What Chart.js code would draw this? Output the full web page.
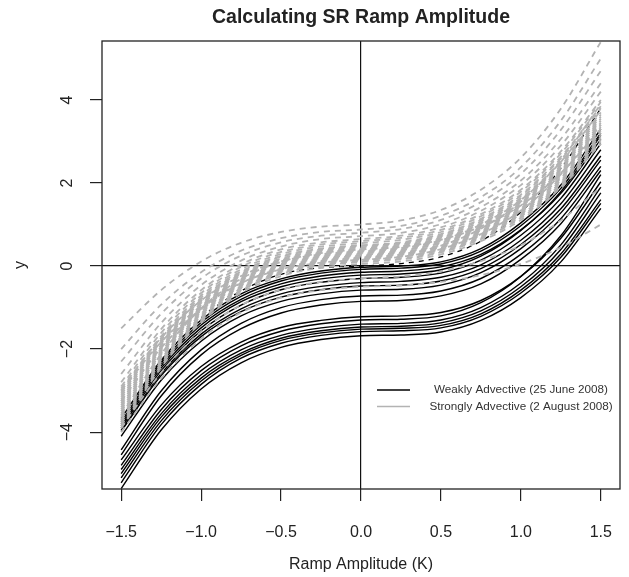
<!DOCTYPE html>
<html>
<head>
<meta charset="utf-8">
<script src="https://cdn.jsdelivr.net/npm/chart.js@4"></script>
<style>
  html, body { margin: 0; padding: 0; background: #fff; }
</style>
</head>
<body>
<canvas id="myChart" width="629" height="577"></canvas>
<script>
// ramp amplitude sample points (K)
var rampX = [-1.5, -1.25, -1.0, -0.75, -0.5, -0.25, 0.0, 0.25, 0.5, 0.75, 1.0, 1.25, 1.5];
var xTicks = [-1.5, -1.0, -0.5, 0.0, 0.5, 1.0, 1.5];
var yTicks = [-4, -2, 0, 2, 4];

// Weakly Advective (25 June 2008) - black solid curves
var weakly = [
  [-3.67,-2.27,-1.30,-0.67,-0.31,-0.12,-0.03,-0.00,0.10,0.42,1.04,1.95,3.30],
  [-3.75,-2.34,-1.36,-0.73,-0.36,-0.17,-0.08,-0.05,0.05,0.36,0.97,1.87,3.20],
  [-3.80,-2.40,-1.42,-0.80,-0.43,-0.24,-0.15,-0.12,-0.02,0.28,0.87,1.75,3.05],
  [-3.85,-2.46,-1.49,-0.86,-0.50,-0.31,-0.22,-0.19,-0.09,0.24,0.86,1.79,3.15],
  [-3.90,-2.52,-1.56,-0.94,-0.57,-0.39,-0.30,-0.27,-0.17,0.14,0.74,1.63,2.95],
  [-3.95,-2.59,-1.64,-1.03,-0.67,-0.49,-0.40,-0.37,-0.27,0.03,0.62,1.50,2.80],
  [-3.98,-2.64,-1.70,-1.10,-0.75,-0.57,-0.48,-0.46,-0.36,-0.06,0.52,1.38,2.65],
  [-4.10,-2.75,-1.81,-1.20,-0.85,-0.67,-0.58,-0.56,-0.46,-0.16,0.42,1.28,2.55],
  [-4.43,-3.01,-2.02,-1.38,-1.00,-0.81,-0.72,-0.70,-0.60,-0.30,0.28,1.14,2.40],
  [-4.55,-3.13,-2.14,-1.51,-1.13,-0.94,-0.85,-0.83,-0.72,-0.43,0.16,1.02,2.30],
  [-4.67,-3.35,-2.42,-1.83,-1.48,-1.31,-1.22,-1.20,-1.12,-0.83,-0.25,0.67,2.03],
  [-4.80,-3.46,-2.52,-1.92,-1.57,-1.39,-1.30,-1.28,-1.20,-0.88,-0.25,0.73,2.20],
  [-4.90,-3.56,-2.62,-2.02,-1.67,-1.49,-1.40,-1.38,-1.30,-1.00,-0.41,0.51,1.90],
  [-5.00,-3.64,-2.70,-2.10,-1.74,-1.56,-1.47,-1.45,-1.37,-1.08,-0.50,0.40,1.76],
  [-5.10,-3.73,-2.77,-2.15,-1.79,-1.61,-1.52,-1.50,-1.43,-1.15,-0.58,0.29,1.60],
  [-5.22,-3.82,-2.85,-2.22,-1.86,-1.67,-1.58,-1.56,-1.49,-1.21,-0.65,0.21,1.51],
  [-5.36,-3.95,-2.96,-2.33,-1.96,-1.77,-1.68,-1.66,-1.59,-1.31,-0.76,0.10,1.39]
];
// the one black dashed curve
var weaklyDashed = [-3.70,-2.30,-1.25,-0.60,-0.20,-0.04,0.00,0.06,0.22,0.60,1.30,2.35,3.80];

// Strongly Advective (2 August 2008) - gray dashed curves
var strongly = [
  [-1.50,-0.58,0.11,0.56,0.82,0.95,1.00,1.10,1.35,1.84,2.61,3.79,5.40],
  [-2.00,-0.93,-0.15,0.37,0.67,0.82,0.88,0.97,1.21,1.66,2.38,3.50,5.00],
  [-2.30,-1.15,-0.30,0.25,0.57,0.73,0.80,0.89,1.11,1.54,2.22,3.28,4.70],
  [-2.60,-1.37,-0.46,0.13,0.47,0.65,0.72,0.80,1.01,1.42,2.06,3.06,4.40],
  [-2.80,-1.52,-0.58,0.04,0.40,0.57,0.65,0.73,0.93,1.33,1.95,2.90,4.20],
  [-2.90,-1.61,-0.65,-0.02,0.34,0.52,0.60,0.68,0.87,1.25,1.84,2.76,4.00],
  [-3.00,-1.69,-0.71,-0.08,0.29,0.47,0.55,0.63,0.82,1.20,1.79,2.71,3.95],
  [-3.05,-1.74,-0.76,-0.13,0.24,0.42,0.50,0.57,0.77,1.14,1.72,2.63,3.85],
  [-3.10,-1.78,-0.79,-0.16,0.22,0.40,0.48,0.55,0.74,1.11,1.69,2.59,3.80],
  [-3.15,-1.82,-0.83,-0.19,0.18,0.37,0.45,0.52,0.71,1.07,1.64,2.51,3.70],
  [-3.20,-1.86,-0.87,-0.22,0.15,0.34,0.42,0.49,0.68,1.03,1.60,2.47,3.65],
  [-3.25,-1.90,-0.90,-0.25,0.13,0.32,0.40,0.47,0.65,1.01,1.57,2.43,3.60],
  [-3.30,-1.94,-0.94,-0.28,0.10,0.29,0.37,0.44,0.62,0.97,1.53,2.39,3.55],
  [-3.35,-1.98,-0.97,-0.31,0.08,0.27,0.35,0.42,0.60,0.95,1.50,2.35,3.50],
  [-3.40,-2.02,-1.00,-0.34,0.05,0.24,0.32,0.39,0.57,0.92,1.46,2.31,3.45],
  [-3.45,-2.06,-1.04,-0.37,0.02,0.22,0.30,0.37,0.55,0.89,1.43,2.27,3.40],
  [-3.50,-2.11,-1.07,-0.40,-0.01,0.19,0.27,0.34,0.51,0.86,1.39,2.23,3.35],
  [-3.55,-2.14,-1.10,-0.43,-0.03,0.17,0.25,0.32,0.49,0.83,1.36,2.19,3.30],
  [-3.60,-2.19,-1.14,-0.46,-0.06,0.14,0.22,0.29,0.46,0.80,1.33,2.14,3.25],
  [-3.65,-2.23,-1.17,-0.49,-0.09,0.12,0.20,0.27,0.44,0.77,1.30,2.11,3.20],
  [-3.70,-2.27,-1.21,-0.52,-0.12,0.09,0.17,0.24,0.41,0.74,1.26,2.06,3.15],
  [-3.75,-2.31,-1.24,-0.54,-0.14,0.06,0.15,0.22,0.38,0.71,1.23,2.02,3.10],
  [-3.80,-2.35,-1.28,-0.58,-0.17,0.03,0.12,0.18,0.35,0.68,1.19,1.98,3.05],
  [-3.85,-2.39,-1.31,-0.60,-0.19,0.01,0.10,0.16,0.33,0.65,1.16,1.94,3.00],
  [-3.90,-2.44,-1.36,-0.65,-0.24,-0.04,0.05,0.11,0.28,0.60,1.11,1.89,2.95],
  [-2.95,-1.73,-0.83,-0.24,0.11,0.28,0.35,0.43,0.62,1.00,1.59,2.51,3.75],
  [-3.25,-1.97,-1.03,-0.41,-0.06,0.12,0.20,0.28,0.49,0.90,1.55,2.55,3.90],
  [-3.60,-2.12,-1.02,-0.31,0.10,0.31,0.40,0.46,0.63,0.95,1.46,2.24,3.30],
  [-3.00,-1.83,-0.97,-0.41,-0.08,0.08,0.15,0.22,0.41,0.77,1.34,2.21,3.40],
  [-4.00,-2.71,-1.75,-1.12,-0.76,-0.58,-0.50,-0.47,-0.38,-0.22,0.05,0.45,1.00],
  [-3.90,-2.57,-1.58,-0.94,-0.57,-0.38,-0.30,-0.25,-0.13,0.12,0.50,1.10,1.90]
];

var FONT = "'Liberation Sans', Arial, Helvetica, sans-serif";
var GRAY = '#b3b3b3';

function toPoints(ys){
    return ys.map(function (y, i) {
        return {x: rampX[i], y: y};
    });
}

function fmtX(v){
    return v.toFixed(1).replace('-', '\u2212');
}
function fmtY(v){
    return String(v).replace('-', '\u2212');
}

var datasets = [];
// gray first so they draw on top of the black ones
strongly.forEach(function (ys) {
    datasets.push({
        data: toPoints(ys),
        borderColor: GRAY,
        borderWidth: 1.8,
        borderDash: [6, 5],
        pointRadius: 0,
        fill: false,
        cubicInterpolationMode: 'monotone'
    });
});
datasets.push({
    data: toPoints(weaklyDashed),
    borderColor: '#000',
    borderWidth: 1.3,
    borderDash: [5, 5],
    pointRadius: 0,
    fill: false,
    cubicInterpolationMode: 'monotone'
});
weakly.forEach(function (ys) {
    datasets.push({
        data: toPoints(ys),
        borderColor: '#000',
        borderWidth: 1.4,
        pointRadius: 0,
        fill: false,
        cubicInterpolationMode: 'monotone'
    });
});

// box, title and legend in the R style
var rDecor = {
    id: 'rDecor',
    afterDraw: function (chart) {
        var ctx = chart.ctx;
        var ca = chart.chartArea;
        ctx.save();
        ctx.strokeStyle = '#222';
        ctx.lineWidth = 1.3;
        ctx.strokeRect(ca.left, ca.top, ca.right - ca.left, ca.bottom - ca.top);

        ctx.fillStyle = '#222';
        ctx.font = 'bold 19.5px ' + FONT;
        ctx.textAlign = 'center';
        ctx.textBaseline = 'middle';
        ctx.fillText('Calculating SR Ramp Amplitude', (ca.left + ca.right) / 2, 18);

        // legend
        var lx1 = ca.left + 275, lx2 = ca.left + 308, tx = ca.left + 419;
        var y1 = ca.top + 349, y2 = ca.top + 365.5;
        ctx.lineWidth = 1.5;
        ctx.strokeStyle = '#000';
        ctx.beginPath(); ctx.moveTo(lx1, y1); ctx.lineTo(lx2, y1); ctx.stroke();
        ctx.lineWidth = 1.3;
        ctx.strokeStyle = GRAY;
        ctx.beginPath(); ctx.moveTo(lx1, y2); ctx.lineTo(lx2, y2); ctx.stroke();
        ctx.fillStyle = '#333';
        ctx.font = '11.7px ' + FONT;
        ctx.fillText('Weakly Advective (25 June 2008)', tx, y1);
        ctx.fillText('Strongly Advective (2 August 2008)', tx, y2);
        ctx.restore();
    }
};

var ctx = document.getElementById('myChart').getContext('2d');
var chart = new Chart(ctx, {
    type: 'line',
    data: { datasets: datasets },
    plugins: [rDecor],
    options: {
        responsive: false,
        animation: false,
        devicePixelRatio: 1,
        layout: { padding: { top: 41, right: 9, bottom: 0, left: 0 } },
        plugins: {
            legend: { display: false },
            title: { display: false },
            tooltip: { enabled: false }
        },
        scales: {
            x: {
                type: 'linear',
                min: -1.62,
                max: 1.62,
                afterBuildTicks: function (s) {
                    s.ticks = xTicks.map(function (v) { return {value: v}; });
                },
                afterFit: function (s) {
                    s.height = 88;
                    s.paddingLeft = 0;
                    s.paddingRight = 0;
                },
                border: { display: false },
                grid: {
                    color: function (c) {
                        return (c.tick && c.tick.value === 0) ? '#111' : 'rgba(0,0,0,0)';
                    },
                    lineWidth: 1.2,
                    tickColor: '#222',
                    tickWidth: 1.2,
                    tickLength: 12
                },
                ticks: {
                    padding: 22,
                    color: '#222',
                    font: { size: 16, family: FONT },
                    maxRotation: 0,
                    callback: function (v) { return fmtX(v); }
                },
                title: {
                    display: true,
                    text: 'Ramp Amplitude (K)',
                    color: '#222',
                    font: { size: 16, family: FONT },
                    padding: { top: 0, bottom: 3 }
                }
            },
            y: {
                type: 'linear',
                min: -5.37,
                max: 5.42,
                afterBuildTicks: function (s) {
                    s.ticks = yTicks.map(function (v) { return {value: v}; });
                },
                afterFit: function (s) {
                    s.width = 102;
                    s.paddingTop = 0;
                    s.paddingBottom = 0;
                },
                border: { display: false },
                grid: {
                    color: function (c) {
                        return (c.tick && c.tick.value === 0) ? '#111' : 'rgba(0,0,0,0)';
                    },
                    lineWidth: 1.2,
                    tickColor: '#222',
                    tickWidth: 1.2,
                    tickLength: 12
                },
                ticks: {
                    padding: 13,
                    color: '#222',
                    crossAlign: 'center',
                    minRotation: 90,
                    maxRotation: 90,
                    font: { size: 16, family: FONT },
                    callback: function (v) { return fmtY(v); }
                },
                title: {
                    display: true,
                    text: 'y',
                    color: '#222',
                    font: { size: 16, family: FONT },
                    padding: { top: 11, bottom: 0 }
                }
            }
        }
    }
});
</script>
</body>
</html>
